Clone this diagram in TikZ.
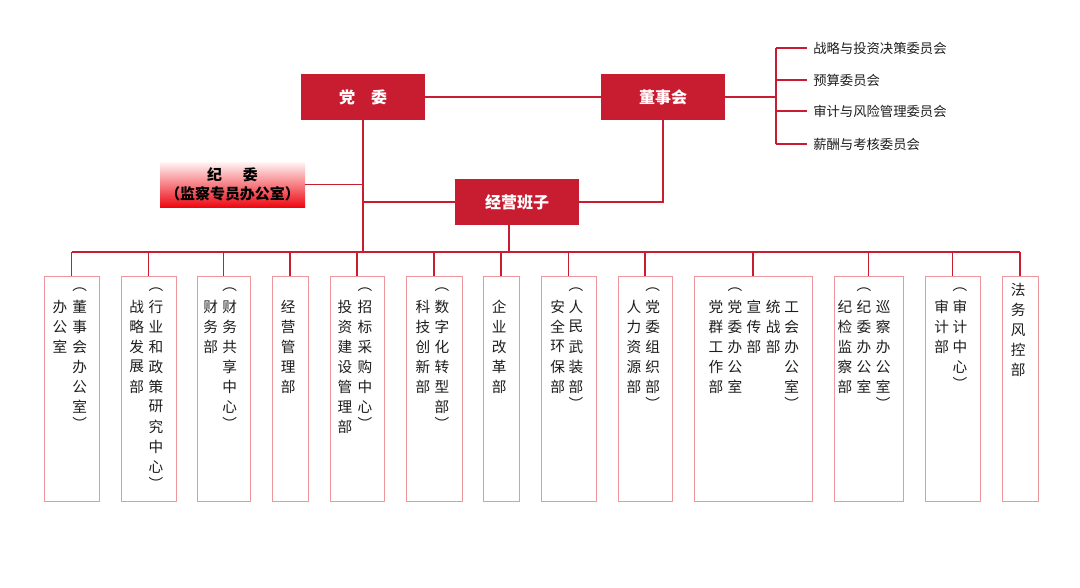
\documentclass[tikz,border=0pt]{standalone}
\usepackage{fontspec}
\setmainfont{Noto Sans CJK SC}
\usetikzlibrary{positioning}
\definecolor{dangred}{RGB}{200,28,48}
\definecolor{boxpink}{RGB}{238,150,158}
\definecolor{textgray}{RGB}{30,30,30}
\tikzset{
  lead/.style={fill=dangred, text=white, font=\bfseries\fontsize{12}{14}\selectfont,
    minimum width=93pt, minimum height=34.5pt, inner sep=0pt},
  link/.style={draw=dangred, line width=0.9pt},
  dept/.style={draw=boxpink, line width=0.7pt, minimum height=168.75pt, inner sep=0pt},
  vchar/.style={font=\fontsize{11}{11}\selectfont, text=textgray, inner sep=0pt},
  cmte/.style={font=\fontsize{10}{12}\selectfont, text=textgray, anchor=west,
    inner xsep=4.5pt, inner ysep=0pt}
}
% box of a department, from x1 to x2
\newcommand\deptbox[3]{\node[dept, minimum width={(#3-#2)*0.75pt}] (#1) at ({(#2+#3)/2},388.5) {};}
% one column of vertical text
\newcommand\vcol[4]{\foreach \c [count=\i] in {#4} {\node[vchar] (#1-\i) at (#2,{#3+(\i-1)*20}) {\c};}}
\newcommand\vopen[2]{\node[vchar] (#1-op) at (#2,290) {︵};}
\newcommand\vclose[3]{\node[vchar] (#1-cp) at (#2,{303.4+20*#3}) {︶};}

\begin{document}
\begin{tikzpicture}[x=0.75pt,y=-0.75pt]
    \fill[white] (0,0) rectangle (1080,588);
    \useasboundingbox (0,0) rectangle (1080,588);

    % Керівні органи
    \node[lead] (dw) at (363,97) {党　委};
    \node[lead] (dsh) at (663,97) {董事会};
    \node[lead] (jy) at (517,202) {经营班子};
    \node[top color={rgb,255:red,255;green,245;blue,245}, bottom color={rgb,255:red,238;green,8;blue,18},
      minimum width=108.75pt, minimum height=33.75pt, inner sep=0pt, align=center,
      font=\bfseries\fontsize{11.2}{13.7}\selectfont] (jw) at (232.5,184.5)
      {纪\hspace{1.4em}委\\（监察专员办公室）};

    % Зв'язки між органами
    \draw[link] (dw.east) -- (dsh.west);
    \draw[link] (jw.east) -- (jw.east -| dw.south);
    \draw[link] (jy.west) -- (jy.west -| dw.south);
    \draw[link] (dsh.south) |- (jy.east);

    % Комітети ради директорів
    \coordinate (brk) at (776,97);
    \node[cmte] (cm1) at (807,48) {战略与投资决策委员会};
    \node[cmte] (cm2) at (807,80) {预算委员会};
    \node[cmte] (cm3) at (807,111) {审计与风险管理委员会};
    \node[cmte] (cm4) at (807,144) {薪酬与考核委员会};
    \draw[link] (dsh.east) -- (brk);
    \draw[link] (cm1.west -| brk) -- (cm4.west -| brk);
    \foreach \i in {1,...,4} \draw[link] (cm\i.west) -- (cm\i.west -| brk);

    % Відділи
    \deptbox{b1}{44}{99}
    \deptbox{b2}{121}{176}
    \deptbox{b3}{197}{250}
    \deptbox{b4}{272}{308}
    \deptbox{b5}{330}{384}
    \deptbox{b6}{406}{462}
    \deptbox{b7}{483}{519}
    \deptbox{b8}{541}{596}
    \deptbox{b9}{618}{672}
    \deptbox{b10}{694}{812}
    \deptbox{b11}{834}{903}
    \deptbox{b12}{925}{980}
    \deptbox{b13}{1002}{1038}

    % Шина
    \coordinate (busL) at (71.5,252);
    \coordinate (busR) at (1020,252);
    \coordinate (jyd) at ([xshift=-6pt]jy.south);
    \draw[link] (busL) -- (busR);
    \draw[link] (dw.south) -- (dw.south |- busL);
    \draw[link] (jyd) -- (jyd |- busL);
    \foreach \i in {1,...,13} \draw[link] (b\i.north) -- (b\i.north |- busL);

    % Назви відділів
    \vcol{b1a}{60}{306.7}{办,公,室}
    \vopen{b1b}{79.7}\vcol{b1b}{79.7}{306.7}{董,事,会,办,公,室}\vclose{b1b}{79.7}{6}
    \vcol{b2a}{136.7}{306.7}{战,略,发,展,部}
    \vopen{b2b}{156}\vcol{b2b}{156}{306.7}{行,业,和,政,策,研,究,中,心}\vclose{b2b}{156}{9}
    \vcol{b3a}{210.7}{306.7}{财,务,部}
    \vopen{b3b}{229.7}\vcol{b3b}{229.7}{306.7}{财,务,共,享,中,心}\vclose{b3b}{229.7}{6}
    \vcol{b4a}{288.3}{306.7}{经,营,管,理,部}
    \vcol{b5a}{345}{306.7}{投,资,建,设,管,理,部}
    \vopen{b5b}{365}\vcol{b5b}{365}{306.7}{招,标,采,购,中,心}\vclose{b5b}{365}{6}
    \vcol{b6a}{423}{306.7}{科,技,创,新,部}
    \vopen{b6b}{442}\vcol{b6b}{442}{306.7}{数,字,化,转,型,部}\vclose{b6b}{442}{6}
    \vcol{b7a}{499.3}{306.7}{企,业,改,革,部}
    \vcol{b8a}{557.7}{306.7}{安,全,环,保,部}
    \vopen{b8b}{576}\vcol{b8b}{576}{306.7}{人,民,武,装,部}\vclose{b8b}{576}{5}
    \vcol{b9a}{634}{306.7}{人,力,资,源,部}
    \vopen{b9b}{652.7}\vcol{b9b}{652.7}{306.7}{党,委,组,织,部}\vclose{b9b}{652.7}{5}
    \vcol{b10a}{716}{306.7}{党,群,工,作,部}
    \vopen{b10b}{735}\vcol{b10b}{735}{306.7}{党,委,办,公,室}
    \vcol{b10c}{754}{306.7}{宣,传,部}
    \vcol{b10d}{773.3}{306.7}{统,战,部}
    \vcol{b10e}{791.7}{306.7}{工,会,办,公,室}\vclose{b10e}{791.7}{5}
    \vcol{b11a}{845}{306.7}{纪,检,监,察,部}
    \vopen{b11b}{864}\vcol{b11b}{864}{306.7}{纪,委,办,公,室}
    \vcol{b11c}{883.3}{306.7}{巡,察,办,公,室}\vclose{b11c}{883.3}{5}
    \vcol{b12a}{941.7}{306.7}{审,计,部}
    \vopen{b12b}{960}\vcol{b12b}{960}{306.7}{审,计,中,心}\vclose{b12b}{960}{4}
    \vcol{b13a}{1018.3}{290}{法,务,风,控,部}
\end{tikzpicture}
\end{document}
